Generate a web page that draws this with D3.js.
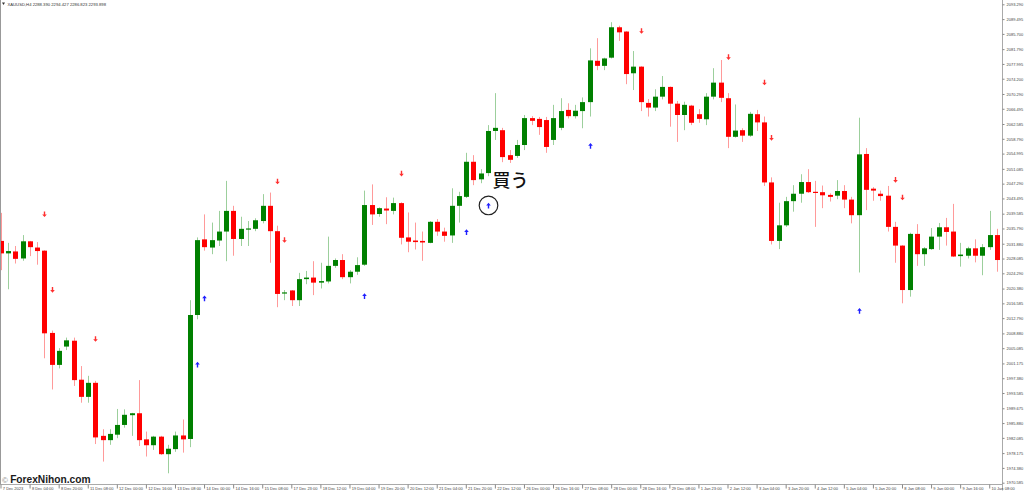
<!DOCTYPE html>
<html><head><meta charset="utf-8">
<script src="https://cdn.jsdelivr.net/npm/d3@7"></script>
<style>
html,body{margin:0;padding:0;background:#fff;}
svg{display:block;}
</style></head>
<body>
<svg id="chart" width="1024" height="491"></svg>
<script>
// ---- DATA (XAUUSD H4) ----
const opens  = [2032.6,2029.4,2029.9,2028.1,2032.5,2030.9,2030.1,2009.0,2000.8,2005.5,2007.0,1997.0,1992.6,1996.2,1982.6,1981.5,1982.9,1985.4,1987.9,1988.4,1981.7,1980.2,1982.4,1977.9,1979.2,1982.7,1981.8,2013.6,2033.0,2030.9,2032.7,2035.0,2040.3,2033.1,2035.6,2035.7,2037.7,2041.6,2035.1,2019.1,2019.9,2017.4,2022.8,2023.2,2021.9,2022.2,2026.2,2027.7,2023.3,2024.7,2026.5,2041.8,2039.5,2040.9,2040.3,2042.3,2033.5,2032.7,2032.6,2032.1,2037.5,2035.0,2034.0,2041.6,2043.9,2052.9,2048.4,2050.0,2060.8,2061.0,2054.6,2054.4,2057.2,2064.1,2063.9,2063.6,2058.5,2061.6,2066.2,2064.6,2065.9,2068.2,2078.8,2077.5,2079.6,2087.4,2086.3,2075.6,2077.3,2068.0,2066.8,2069.6,2072.1,2067.8,2064.9,2067.3,2065.1,2063.8,2069.6,2073.2,2069.2,2059.3,2061.0,2059.6,2065.1,2063.0,2047.6,2032.6,2036.6,2042.8,2044.7,2047.7,2045.2,2045.1,2044.4,2044.2,2045.4,2043.2,2039.2,2054.9,2046.0,2044.7,2044.2,2036.2,2031.4,2020.0,2034.4,2029.2,2030.5,2033.7,2036.1,2035.0,2028.7,2028.8,2030.7,2028.8,2031.0,2034.1];
const highs  = [2039.8,2032.1,2031.3,2034.1,2032.6,2032.3,2030.2,2009.6,2005.1,2007.8,2007.8,2000.5,1998.0,1996.7,1984.3,1984.3,1989.5,1989.4,1988.5,1996.9,1983.7,1982.6,1982.6,1980.3,1983.7,1986.8,2017.4,2033.5,2039.4,2037.3,2040.3,2048.0,2041.6,2038.8,2037.7,2038.4,2044.6,2045.0,2036.5,2020.0,2020.0,2024.4,2024.9,2027.4,2027.0,2033.7,2028.1,2029.2,2025.1,2028.4,2045.5,2047.1,2041.2,2043.8,2043.7,2042.5,2039.9,2037.3,2035.0,2037.7,2038.2,2036.0,2046.1,2045.2,2055.2,2054.6,2051.0,2062.3,2070.5,2061.6,2055.9,2058.5,2064.9,2064.6,2064.4,2064.4,2067.5,2069.2,2067.9,2067.5,2069.4,2082.0,2084.6,2079.6,2088.7,2087.8,2086.4,2081.3,2077.4,2069.0,2071.5,2074.9,2072.2,2068.5,2068.3,2067.5,2066.4,2070.5,2076.9,2079.0,2070.5,2067.6,2061.5,2065.7,2066.2,2064.5,2048.9,2042.4,2043.9,2046.9,2049.7,2051.0,2048.0,2046.8,2044.8,2048.2,2046.9,2043.9,2064.2,2056.4,2046.4,2045.5,2046.7,2037.5,2031.5,2034.7,2036.9,2031.0,2035.9,2037.2,2038.5,2042.1,2032.1,2031.1,2033.0,2031.8,2040.3,2035.7];
const lows   = [2025.1,2020.2,2026.8,2027.5,2028.7,2026.5,2002.5,1994.5,1999.9,2004.6,1995.4,1991.1,1991.1,1980.5,1976.0,1980.3,1982.0,1984.7,1982.6,1980.0,1977.3,1979.0,1977.7,1973.0,1978.5,1978.3,1979.7,2012.5,2030.1,2029.2,2031.3,2027.4,2028.8,2031.3,2031.3,2035.1,2037.1,2027.0,2015.6,2017.4,2015.9,2015.9,2021.5,2018.7,2020.4,2021.7,2025.7,2022.8,2021.7,2023.9,2026.2,2036.7,2038.8,2036.9,2039.4,2031.7,2029.7,2030.4,2027.5,2032.0,2033.9,2032.4,2032.1,2037.3,2043.6,2046.9,2047.4,2049.2,2058.5,2052.8,2052.6,2053.9,2055.9,2062.3,2059.8,2055.2,2057.2,2061.0,2064.0,2064.0,2061.5,2064.5,2076.4,2076.4,2079.4,2083.9,2072.8,2071.3,2065.9,2064.5,2065.9,2068.9,2061.9,2058.0,2061.0,2062.3,2062.9,2062.3,2068.9,2068.2,2056.4,2059.1,2058.0,2059.3,2060.8,2046.7,2031.7,2030.5,2036.2,2040.1,2042.4,2044.9,2036.2,2041.0,2042.7,2043.3,2041.0,2037.1,2024.5,2040.5,2042.9,2042.9,2035.0,2027.0,2016.6,2018.3,2026.2,2026.2,2030.3,2030.3,2031.4,2028.5,2026.0,2028.1,2027.1,2023.8,2030.3,2024.7];
const closes = [2029.4,2030.0,2028.0,2032.5,2031.0,2030.0,2008.9,2000.8,2004.4,2007.1,1996.9,1992.6,1996.2,1982.2,1981.5,1983.1,1985.4,1988.0,1988.4,1981.5,1980.2,1982.4,1977.9,1979.3,1982.7,1981.7,2013.6,2032.8,2031.0,2032.8,2035.0,2040.3,2033.1,2035.7,2035.8,2037.9,2041.6,2035.1,2019.0,2019.4,2017.4,2022.8,2023.2,2021.9,2022.3,2026.2,2027.7,2023.3,2024.7,2026.4,2041.8,2039.4,2041.0,2040.4,2042.3,2033.4,2032.4,2032.3,2032.2,2037.5,2035.0,2033.9,2041.6,2044.1,2052.9,2048.2,2049.9,2060.8,2061.6,2054.1,2053.4,2057.2,2064.1,2063.4,2061.8,2056.7,2064.1,2065.9,2064.6,2066.0,2068.2,2078.9,2077.5,2079.4,2087.4,2086.1,2075.4,2077.3,2068.2,2066.8,2069.6,2072.1,2067.8,2064.9,2067.5,2062.9,2063.9,2069.6,2073.2,2069.3,2059.3,2060.9,2059.6,2065.2,2063.0,2047.6,2032.6,2036.6,2042.8,2044.7,2047.7,2045.1,2045.0,2044.3,2043.9,2045.4,2043.2,2039.2,2054.8,2045.7,2045.5,2044.1,2036.2,2031.4,2020.0,2034.4,2029.2,2030.7,2033.7,2036.1,2034.9,2028.6,2029.1,2030.7,2028.8,2031.0,2034.1,2027.7];

const sellBars   = [6,7,13,38,39,55,88,100,105,106,123,124];
const sellPrices = [2039.4,2020.0,2007.4,2047.8,2032.8,2049.8,2086.4,2079.7,2073.2,2059.0,2048.2,2043.7];
const buyBars    = [27,28,50,64,67,81,118];
const buyPrices  = [2000.9,2017.9,2018.5,2034.9,2041.7,2057.0,2014.7];

const xLabels = ["7 Dec 2023","8 Dec 04:00","8 Dec 20:00","11 Dec 08:00","12 Dec 00:00","12 Dec 16:00","13 Dec 08:00","14 Dec 00:00","14 Dec 16:00","15 Dec 08:00","17 Dec 23:00","18 Dec 12:00","19 Dec 04:00","19 Dec 20:00","20 Dec 12:00","21 Dec 04:00","21 Dec 20:00","22 Dec 12:00","26 Dec 00:00","26 Dec 16:00","27 Dec 08:00","28 Dec 00:00","28 Dec 16:00","29 Dec 08:00","1 Jan 23:00","2 Jan 12:00","3 Jan 04:00","3 Jan 20:00","4 Jan 12:00","5 Jan 04:00","5 Jan 20:00","8 Jan 08:00","9 Jan 00:00","9 Jan 16:00","10 Jan 08:00"];
const yTicks = [2093.290,2089.495,2085.700,2081.790,2077.995,2074.200,2070.290,2066.495,2062.585,2058.790,2054.995,2051.085,2047.290,2043.495,2039.585,2035.790,2031.880,2028.085,2024.290,2020.380,2016.585,2012.790,2008.880,2005.085,2001.175,1997.380,1993.585,1989.675,1985.880,1982.085,1978.175,1974.380,1970.585];

const headerText = "XAUUSD,H4  2288.390 2294.427 2286.823 2293.898";
const annotationText = "買う";
const annotatedBuy = 4; // index into buyBars
const watermark = "ForexNihon.com";

// ---- CHART ----
const svg = d3.select("#chart");
const axisX = 1002.5, axisY = 484.5;
const x = d3.scaleLinear().domain([0, opens.length - 1]).range([0.8, 996.8]);
const y = d3.scaleLinear().domain([1970.585, 2093.29]).range([482.7, 4.3]);
const tinyFont = "Liberation Sans, Arial, sans-serif";

svg.append("defs").append("clipPath").attr("id","plot")
  .append("rect").attr("x",0).attr("y",0).attr("width",axisX).attr("height",axisY);

const bars = d3.range(opens.length).map(i => ({i, o:opens[i], h:highs[i], l:lows[i], c:closes[i]}));
const up = d => d.c >= d.o;

const plot = svg.append("g").attr("clip-path","url(#plot)");
plot.selectAll("line.wick").data(bars).join("line")
  .attr("class","wick")
  .attr("x1", d => Math.round(x(d.i)) + 0.5).attr("x2", d => Math.round(x(d.i)) + 0.5)
  .attr("y1", d => y(d.h)).attr("y2", d => y(d.l))
  .attr("stroke", d => up(d) ? "#9ccf9c" : "#ff9a9a").attr("stroke-width", 1);

plot.selectAll("rect.body").data(bars).join("rect")
  .attr("class","body")
  .attr("x", d => Math.round(x(d.i)) - 2)
  .attr("width", 5)
  .attr("y", d => y(Math.max(d.o, d.c)))
  .attr("height", d => Math.max(1.2, Math.abs(y(d.o) - y(d.c))))
  .attr("fill", d => up(d) ? "#008000" : "#ff0000");

// arrows
const downArrow = "M-0.7,-3 L0.7,-3 L0.7,0 L2.3,0 L0,2.7 L-2.3,0 L-0.7,0 Z";
const upArrow   = "M-0.7,3 L0.7,3 L0.7,0 L2.3,0 L0,-2.7 L-2.3,0 L-0.7,0 Z";
plot.selectAll("path.sell").data(sellBars).join("path")
  .attr("class","sell").attr("d", downArrow)
  .attr("transform", (b,k) => `translate(${Math.round(x(b))+0.5},${y(sellPrices[k])})`)
  .attr("fill","#ff3030");
plot.selectAll("path.buy").data(buyBars).join("path")
  .attr("class","buy").attr("d", upArrow)
  .attr("transform", (b,k) => `translate(${Math.round(x(b))+0.5},${y(buyPrices[k])})`)
  .attr("fill","#2020ff");

// annotation
const ax = Math.round(x(buyBars[annotatedBuy])) + 0.5, ay = y(buyPrices[annotatedBuy]);
svg.append("circle").attr("cx", ax).attr("cy", ay).attr("r", 9.3)
  .attr("fill","none").attr("stroke","#222").attr("stroke-width",1.2);
svg.append("text").attr("x", ax + 4).attr("y", ay - 18)
  .attr("font-family","'Noto Sans CJK JP'").attr("font-size",18).attr("font-weight",500)
  .attr("fill","#111").text(annotationText);

// axes frame
svg.append("line").attr("x1",0.5).attr("x2",0.5).attr("y1",0).attr("y2",axisY).attr("stroke","#999");
svg.append("line").attr("x1",axisX).attr("x2",axisX).attr("y1",0).attr("y2",axisY+6).attr("stroke","#aaa");
svg.append("line").attr("x1",0).attr("x2",axisX).attr("y1",axisY).attr("y2",axisY).attr("stroke","#aaa");

const yAxis = d3.axisRight(y).tickValues(yTicks).tickSize(2).tickPadding(2).tickFormat(d3.format(".3f"));
const gy = svg.append("g").attr("transform",`translate(${axisX},0)`).call(yAxis);
gy.select(".domain").remove();
gy.selectAll(".tick line").attr("stroke","#888");
gy.selectAll("text").attr("font-family",tinyFont).attr("font-size",4).attr("fill","#444");

const xAxis = d3.axisBottom(x).tickValues(xLabels.map((_,k)=>k*4)).tickSize(4).tickFormat((d,k)=>xLabels[k]);
const gx = svg.append("g").attr("transform",`translate(0,${axisY})`).call(xAxis);
gx.select(".domain").remove();
gx.selectAll(".tick line").attr("stroke","#888").attr("transform","translate(-0.3,0)");
gx.selectAll("text").attr("text-anchor","start").attr("x",1.5).attr("y",2.4)
  .attr("font-family",tinyFont).attr("font-size",4).attr("fill","#444");

// header
svg.append("path").attr("d","M2,2.5 L5,2.5 L3.5,5 Z").attr("fill","#333");
svg.append("text").attr("x",7.5).attr("y",6).attr("font-family",tinyFont)
  .attr("font-size",4.2).attr("fill","#333").text(headerText);

// watermark
const wm = svg.append("text").attr("x",2).attr("y",482.5).attr("font-family",tinyFont);
wm.append("tspan").attr("font-size",8).attr("fill","#888").text("© ");
wm.append("tspan").attr("font-size",10.2).attr("font-weight","bold").attr("fill","#1a1a1a").text(watermark);
</script>
</body></html>
